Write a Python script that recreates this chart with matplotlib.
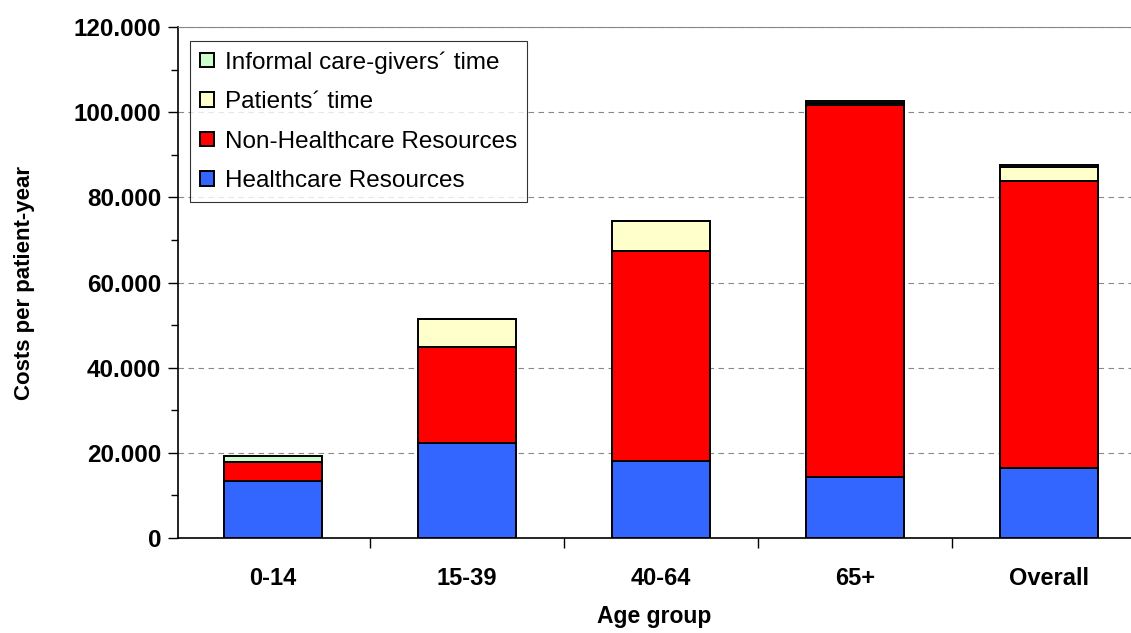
import matplotlib
matplotlib.use("Agg")
import matplotlib.pyplot as plt
from matplotlib.ticker import MultipleLocator, FuncFormatter
import numpy as np

plt.rcParams['font.family'] = ['Liberation Sans', 'DejaVu Sans']

categories = ["0-14", "15-39", "40-64", "65+", "Overall"]
healthcare = [13400, 22300, 18100, 14300, 16400]
non_healthcare = [4400, 22600, 49300, 87300, 67400]
patients_time = [100, 6500, 7000, 500, 3300]
informal_time = [1300, 0, 0, 500, 400]

series = [
    ("Healthcare Resources", healthcare, "#3366FF"),
    ("Non-Healthcare Resources", non_healthcare, "#FF0000"),
    ("Patients\u00b4 time", patients_time, "#FFFFCC"),
    ("Informal care-givers\u00b4 time", informal_time, "#CCFFCC"),
]

fig = plt.figure(figsize=(11.31, 6.33), dpi=100)
ax = fig.add_axes([178/1131, 1 - 538/633, (1131-178)/1131, (538-27)/633])

x = np.arange(len(categories))
bottom = np.zeros(len(categories))
handles = []
for name, vals, col in series:
    b = ax.bar(x, vals, width=0.505, bottom=bottom, color=col, edgecolor="black",
               linewidth=1.4, label=name, zorder=3)
    handles.append(b)
    bottom += np.array(vals)

ax.yaxis.set_major_locator(MultipleLocator(20000))
ax.yaxis.set_minor_locator(MultipleLocator(10000))
ax.yaxis.set_major_formatter(FuncFormatter(lambda v, p: "0" if v == 0 else f"{int(v/1000)}.000"))
ax.grid(axis="y", which="major", color="#888888", linestyle=(0, (5, 4)), linewidth=0.8, zorder=0)
ax.set_xticks(x)
ax.set_xticklabels(categories, fontsize=17, fontweight="bold")
ax.tick_params(axis="x", length=0, pad=21)
ax.tick_params(axis="y", which="major", length=7, width=1, direction="out", labelsize=17.5, pad=5)
ax.tick_params(axis="y", which="minor", length=5, width=1, direction="out")
for lbl in ax.get_yticklabels():
    lbl.set_fontweight("bold")
# category boundary ticks on x axis
ax.set_xticks(np.arange(-0.5, 5.0, 1.0), minor=True)
ax.tick_params(axis="x", which="minor", length=7, width=1, direction="out")
ax.set_ylim(0, 120000)
ax.set_xlim(-0.49, 4.42)

ax.spines["right"].set_visible(False)
ax.spines["top"].set_color("#888888")
ax.spines["left"].set_linewidth(1.2)
ax.spines["bottom"].set_linewidth(1.2)

ax.set_ylabel("Costs per patient-year", fontsize=16, fontweight="bold", labelpad=28)
ax.set_xlabel("Age group", fontsize=16.5, fontweight="bold", labelpad=11)

leg = ax.legend(handles[::-1], [s[0] for s in series][::-1], loc="upper left",
                bbox_to_anchor=(0.0126, 0.9726), fontsize=17.5, frameon=True, fancybox=False,
                edgecolor="black", handlelength=0.55, handleheight=0.55, handletextpad=0.45,
                labelspacing=0.72, borderpad=0.42, borderaxespad=0)
leg.get_frame().set_linewidth(0.8)
leg.set_zorder(5)

fig.savefig("out.png", dpi=100)
